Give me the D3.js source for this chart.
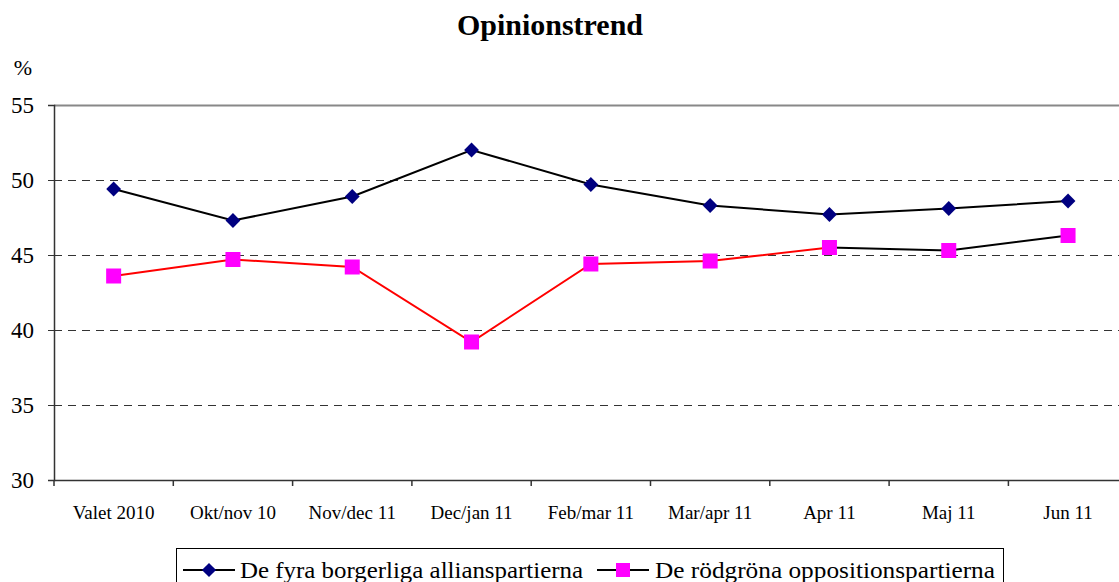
<!DOCTYPE html>
<html><head><meta charset="utf-8">
<script src="https://cdn.jsdelivr.net/npm/d3@7"></script>
<style>body{margin:0;background:#fff}svg{display:block}</style>
</head><body><svg id="c" width="1119" height="582"></svg>
<script>
const categories = ["Valet 2010","Okt/nov 10","Nov/dec 11","Dec/jan 11","Feb/mar 11","Mar/apr 11","Apr 11","Maj 11","Jun 11"];
const alliansValues = [49.4,47.3,48.9,52.0,49.7,48.3,47.7,48.1,48.6];
const rodgronaValues = [43.6,44.7,44.2,39.2,44.4,44.6,45.5,45.3,46.3];
const yTicks = [30,35,40,45,50,55];
const seriesNames = ["De fyra borgerliga allianspartierna","De rödgröna oppositionspartierna"];

const FONT = "Liberation Serif, Times New Roman, serif";
const svg = d3.select("#c");
const L = 54, T = 105, B = 480, bandW = 119.3;
const x = d3.scaleBand().domain(categories).range([L, L + bandW*categories.length]).padding(0);
const y = d3.scaleLinear().domain([30,55]).range([B, T]);
const cx = d => x(d) + x.bandwidth()/2;

svg.append("text").attr("x",550).attr("y",35).attr("text-anchor","middle").attr("font-family",FONT)
  .attr("font-size",29).attr("font-weight","bold").attr("textLength",186).attr("lengthAdjust","spacingAndGlyphs").text("Opinionstrend");
svg.append("text").attr("x",23).attr("y",75).attr("text-anchor","middle").attr("font-family",FONT).attr("font-size",22).text("%");

// gridlines
svg.append("g").selectAll("line").data(yTicks.filter(v=>v>30 && v<55)).join("line")
  .attr("x1",L).attr("x2",1119).attr("y1",d=>Math.round(y(d))+0.5).attr("y2",d=>Math.round(y(d))+0.5)
  .attr("stroke","#333").attr("stroke-dasharray","8,6").attr("stroke-width",1);
svg.append("line").attr("x1",L).attr("x2",1119).attr("y1",y(55)+0.5).attr("y2",y(55)+0.5)
  .attr("stroke","#888").attr("stroke-width",2);

// y axis
const ya = svg.append("g").attr("transform",`translate(${L},0)`)
  .call(d3.axisLeft(y).tickValues(yTicks).tickSize(6).tickFormat(d3.format("d")));
ya.attr("font-family",FONT);
ya.select(".domain").attr("stroke","#333").attr("stroke-width",1.5);
ya.selectAll(".tick line").attr("stroke","#333");
ya.selectAll("text").attr("font-size",23).attr("font-family",FONT).attr("fill","#000").attr("x",-20).attr("dy","0.34em");

// x axis
const xa = svg.append("g").attr("transform",`translate(0,${B})`)
  .call(d3.axisBottom(x).tickSize(0).tickSizeOuter(0));
xa.attr("font-family",FONT);
xa.select(".domain").attr("stroke","#333").attr("stroke-width",1.5);
xa.selectAll(".tick text").attr("font-size",19).attr("font-family",FONT).attr("fill","#000").attr("y",0).attr("dy",39);
xa.selectAll(".tick line").remove();
svg.append("g").selectAll("line").data(d3.range(categories.length+1)).join("line")
  .attr("x1",i=>L+i*x.bandwidth()).attr("x2",i=>L+i*x.bandwidth()).attr("y1",B).attr("y2",B+6)
  .attr("stroke","#333").attr("stroke-width",1.5);

const line = d3.line().x((d,i)=>cx(categories[i])).y(d=>y(d));
svg.append("path").datum(alliansValues).attr("d",line).attr("fill","none").attr("stroke","#000").attr("stroke-width",2);
const idx = d3.range(rodgronaValues.length);
const lineI = d3.line().x(i=>cx(categories[i])).y(i=>y(rodgronaValues[i]));
svg.append("path").datum(idx.slice(0,7)).attr("d",lineI).attr("fill","none").attr("stroke","#ff0000").attr("stroke-width",2);
svg.append("path").datum(idx.slice(6)).attr("d",lineI).attr("fill","none").attr("stroke","#000").attr("stroke-width",2);

svg.append("g").selectAll("path").data(alliansValues).join("path")
  .attr("d",d3.symbol().type(d3.symbolSquare).size(110))
  .attr("transform",(d,i)=>`translate(${cx(categories[i])},${y(d)}) rotate(45)`)
  .attr("fill","#000080");
svg.append("g").selectAll("rect").data(rodgronaValues).join("rect")
  .attr("x",(d,i)=>cx(categories[i])-7.5).attr("y",d=>y(d)-7.5).attr("width",15).attr("height",15)
  .attr("fill","#ff00ff");

// legend
const lg = svg.append("g");
lg.append("rect").attr("x",176.5).attr("y",548.5).attr("width",827).attr("height",50).attr("fill","#fff").attr("stroke","#000").attr("stroke-width",1);
const items = [{x0:183, text:seriesNames[0], type:"d", tx:240, w:343},{x0:597, text:seriesNames[1], type:"s", tx:655, w:340}];
items.forEach(it=>{
  lg.append("line").attr("x1",it.x0).attr("x2",it.x0+52).attr("y1",570).attr("y2",570).attr("stroke","#000").attr("stroke-width",2);
  if(it.type==="d"){
    lg.append("path").attr("d",d3.symbol().type(d3.symbolSquare).size(100)()).attr("transform",`translate(${it.x0+26},570) rotate(45)`).attr("fill","#000080");
  } else {
    lg.append("rect").attr("x",it.x0+19).attr("y",563).attr("width",14).attr("height",14).attr("fill","#ff00ff");
  }
  lg.append("text").attr("x",it.tx).attr("y",578).attr("font-family",FONT).attr("font-size",24)
    .attr("textLength",it.w).attr("lengthAdjust","spacingAndGlyphs").text(it.text);
});
</script></body></html>
